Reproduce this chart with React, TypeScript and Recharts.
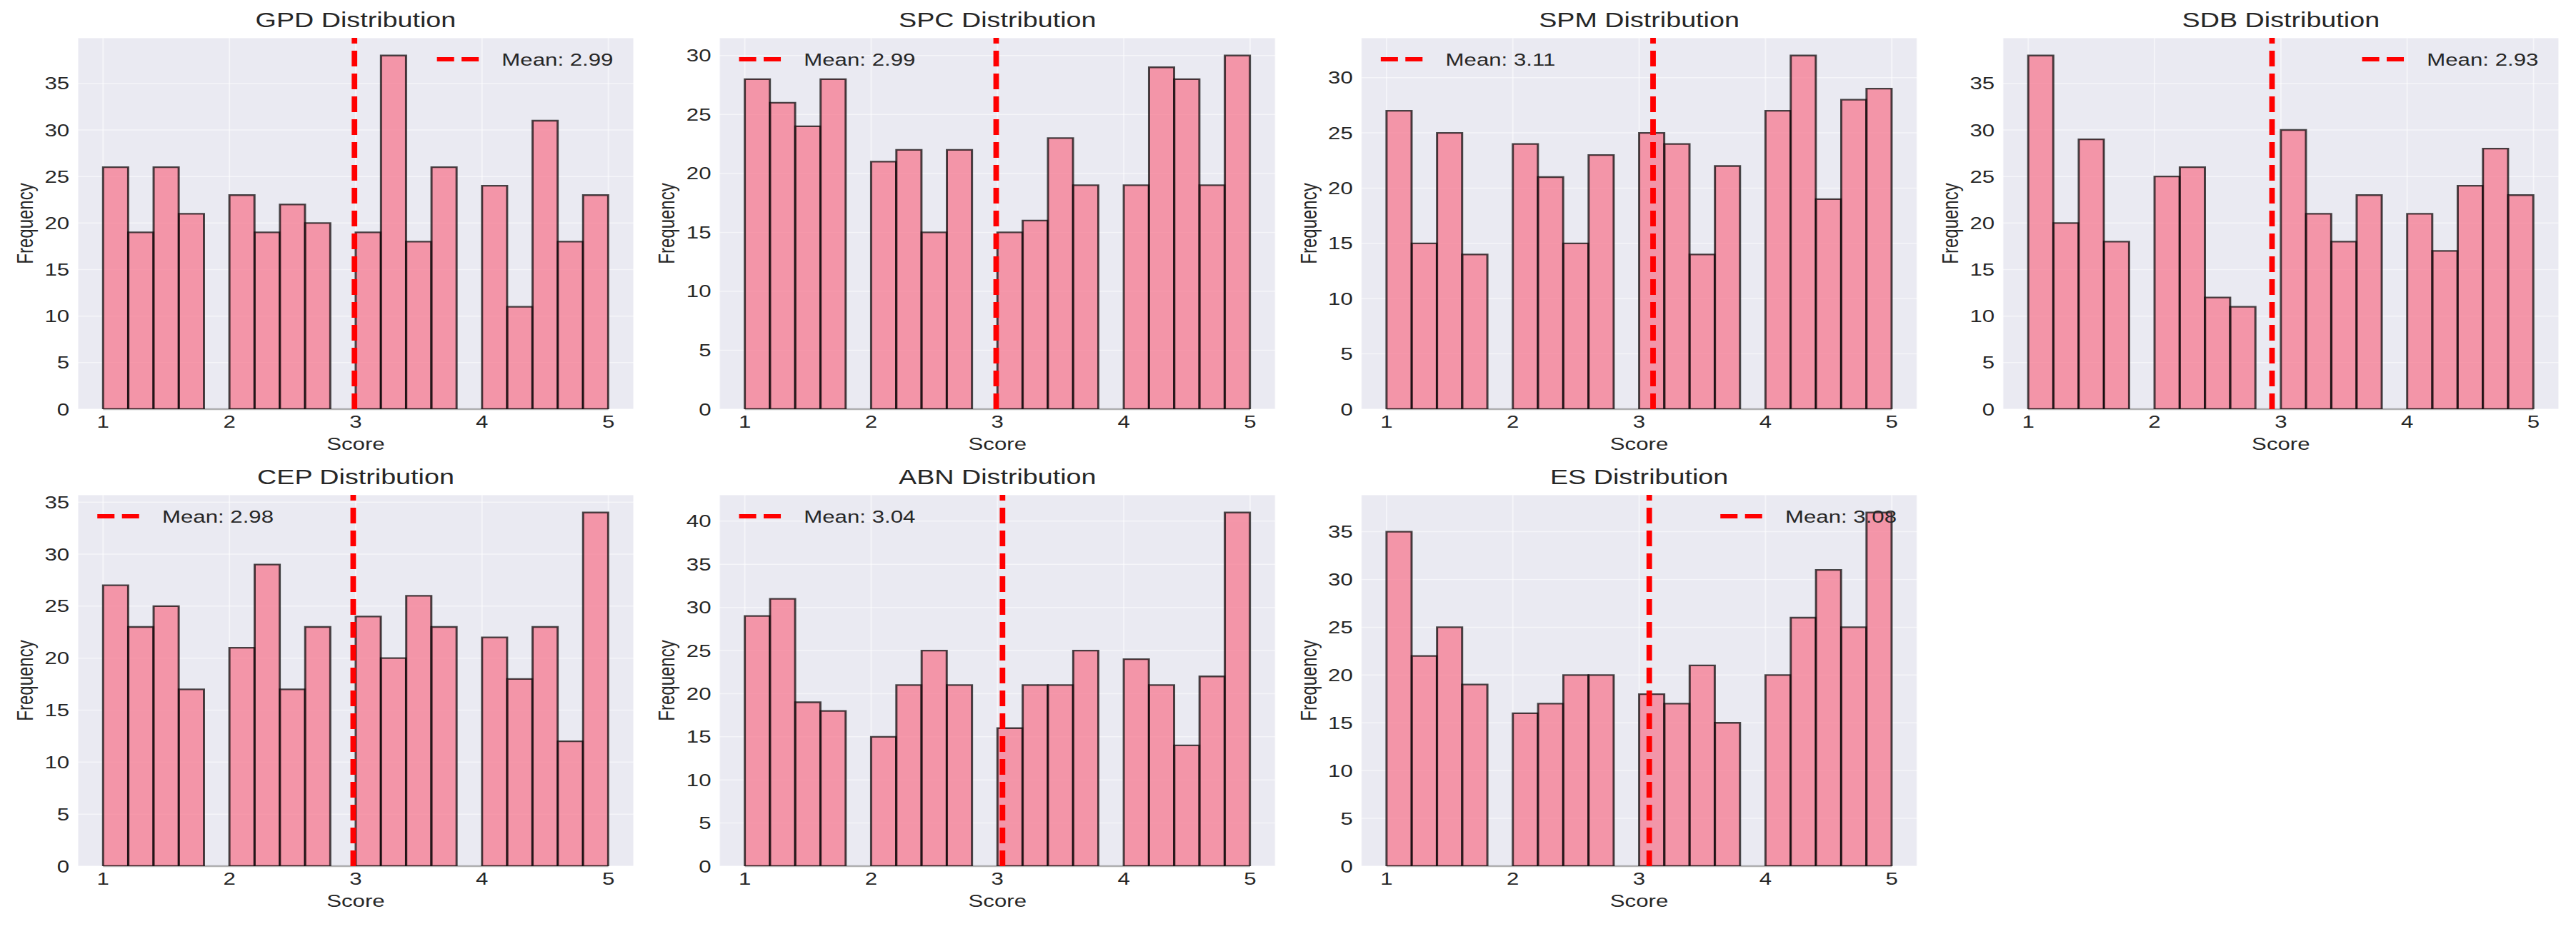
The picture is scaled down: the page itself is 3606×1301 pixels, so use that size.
import React from 'react';
import { ComposedChart, Bar, XAxis, YAxis, CartesianGrid, ReferenceLine } from 'recharts';

// histogram bins (20 bins of width 0.2 between 1 and 5)
const binEdges = [1.0, 1.2, 1.4, 1.6, 1.8, 2.0, 2.2, 2.4, 2.6, 2.8, 3.0, 3.2, 3.4, 3.6, 3.8, 4.0, 4.2, 4.4, 4.6, 4.8, 5.0];
const xTicks = [1, 2, 3, 4, 5];

const gpdCounts = [26, 19, 26, 21, 0, 23, 19, 22, 20, 0, 19, 38, 18, 26, 0, 24, 11, 31, 18, 23];
const spcCounts = [28, 26, 24, 28, 0, 21, 22, 15, 22, 0, 15, 16, 23, 19, 0, 19, 29, 28, 19, 30];
const spmCounts = [27, 15, 25, 14, 0, 24, 21, 15, 23, 0, 25, 24, 14, 22, 0, 27, 32, 19, 28, 29];
const sdbCounts = [38, 20, 29, 18, 0, 25, 26, 12, 11, 0, 30, 21, 18, 23, 0, 21, 17, 24, 28, 23];
const cepCounts = [27, 23, 25, 17, 0, 21, 29, 17, 23, 0, 24, 20, 26, 23, 0, 22, 18, 23, 12, 34];
const abnCounts = [29, 31, 19, 18, 0, 15, 21, 25, 21, 0, 16, 21, 21, 25, 0, 24, 21, 14, 22, 41];
const esCounts = [35, 22, 25, 19, 0, 16, 17, 20, 20, 0, 18, 17, 21, 15, 0, 20, 26, 31, 25, 37];

const yTicks30 = [0, 5, 10, 15, 20, 25, 30];
const yTicks35 = [0, 5, 10, 15, 20, 25, 30, 35];
const yTicks40 = [0, 5, 10, 15, 20, 25, 30, 35, 40];

const panels = [
  { name: 'GPD', counts: gpdCounts, mean: 2.99, legend: 'right', yTicks: yTicks35 },
  { name: 'SPC', counts: spcCounts, mean: 2.99, legend: 'left', yTicks: yTicks30 },
  { name: 'SPM', counts: spmCounts, mean: 3.11, legend: 'left', yTicks: yTicks30 },
  { name: 'SDB', counts: sdbCounts, mean: 2.93, legend: 'right', yTicks: yTicks35 },
  { name: 'CEP', counts: cepCounts, mean: 2.98, legend: 'left', yTicks: yTicks35 },
  { name: 'ABN', counts: abnCounts, mean: 3.04, legend: 'left', yTicks: yTicks40 },
  { name: 'ES', counts: esCounts, mean: 3.08, legend: 'right', yTicks: yTicks35 },
];

// the reference image is stretched horizontally, so lay out narrow and scale
const SX = 1.3;
const FULL_W = 3606;
const FULL_H = 1301;
const CELL_W = 691;
const CELL_H = 640;
const PLOT_L = 83.8;
const PLOT_W = 598.5;
const PLOT_T = 53;
const PLOT_H = 520;
const Y_AXIS_W = 60;
const X_AXIS_H = 60;
const FONT = "'Liberation Sans', Arial, Helvetica, sans-serif";
const TEXT = '#262626';
const BAR = '#f77189';

function rowsFor(counts: number[]) {
  return counts.map((c, i) => ({ bin: (binEdges[i] + binEdges[i + 1]) / 2, count: c }));
}

function Panel({ p, col, row }: any) {
  const data = rowsFor(p.counts);
  const yMax = Math.max(...p.counts) * 1.05;
  const xMin = binEdges[0] - 0.05 * (binEdges[20] - binEdges[0]);
  const xMax = binEdges[20] + 0.05 * (binEdges[20] - binEdges[0]);
  const plotR = PLOT_L + PLOT_W;
  const ly = PLOT_T + 30;
  const textX = p.legend === 'left' ? PLOT_L + 90.8 : plotR - 22 - 120;
  const hx0 = textX - 69.8;
  const tick = { fontSize: 24, fill: TEXT, fontFamily: FONT };

  return (
    <div style={{ position: 'absolute', left: col * CELL_W, top: row * CELL_H, width: CELL_W, height: CELL_H }}>
      <ComposedChart
        width={CELL_W}
        height={CELL_H}
        data={data}
        barCategoryGap={0}
        barGap={0}
        margin={{
          top: PLOT_T,
          left: PLOT_L - Y_AXIS_W,
          right: CELL_W - PLOT_L - PLOT_W,
          bottom: CELL_H - PLOT_T - PLOT_H - X_AXIS_H,
        }}
      >
        <CartesianGrid fill="#EAEAF2" stroke="rgba(255,255,255,0.5)" strokeWidth={1.5} />
        <XAxis
          type="number"
          dataKey="bin"
          domain={[xMin, xMax]}
          ticks={xTicks}
          allowDataOverflow
          axisLine={false}
          tickLine={false}
          tickSize={0}
          tickMargin={9}
          height={X_AXIS_H}
          tick={tick}
          label={{ value: 'Score', position: 'insideBottom', offset: 3, style: { fontSize: 24, fill: TEXT, fontFamily: FONT } }}
        />
        <YAxis
          type="number"
          domain={[0, yMax]}
          ticks={p.yTicks}
          allowDataOverflow
          axisLine={false}
          tickLine={false}
          tickSize={0}
          tickMargin={9}
          width={Y_AXIS_W}
          tick={tick}
          label={{
            value: 'Frequency',
            angle: -90,
            position: 'insideLeft',
            offset: 3,
            style: { textAnchor: 'middle', fontSize: 24, fill: TEXT, fontFamily: FONT },
          }}
        />
        <Bar
          dataKey="count"
          fill={BAR}
          fillOpacity={0.7}
          stroke="rgba(0,0,0,0.7)"
          strokeWidth={2.3}
          isAnimationActive={false}
        />
        <ReferenceLine
          segment={[{ x: binEdges[0], y: 0 }, { x: binEdges[20], y: 0 }]}
          stroke="rgba(0,0,0,0.3)"
          strokeWidth={2.3}
        />
        <ReferenceLine x={p.mean} stroke="#ff0000" strokeWidth={6} strokeDasharray="22 10" />
      </ComposedChart>
      <svg
        width={CELL_W}
        height={CELL_H}
        style={{ position: 'absolute', left: 0, top: 0, pointerEvents: 'none' }}
      >
        <text x={PLOT_L + PLOT_W / 2} y={38} textAnchor="middle" fontSize={29} fill={TEXT} fontFamily={FONT}>
          {p.name} Distribution
        </text>
        <line x1={hx0} x2={hx0 + 45} y1={ly} y2={ly} stroke="#ff0000" strokeWidth={6} strokeDasharray="18.5 8" />
        <text x={textX} y={ly + 8.6} fontSize={24} fill={TEXT} fontFamily={FONT}>
          {`Mean: ${p.mean.toFixed(2)}`}
        </text>
      </svg>
    </div>
  );
}

export default function App() {
  return (
    <div style={{ position: 'relative', width: FULL_W, height: FULL_H, overflow: 'hidden', background: '#fff' }}>
      <style>{'body{margin:0}'}</style>
      <div
        style={{
          position: 'absolute',
          left: 0,
          top: 0,
          width: FULL_W / SX,
          height: FULL_H,
          transform: `scaleX(${SX})`,
          transformOrigin: '0 0',
        }}
      >
        {panels.map((p, i) => (
          <Panel key={p.name} p={p} col={i % 4} row={Math.floor(i / 4)} />
        ))}
      </div>
    </div>
  );
}
